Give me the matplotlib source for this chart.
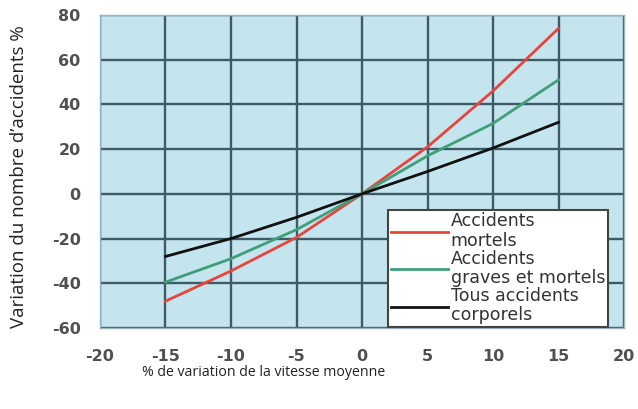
import matplotlib
matplotlib.use("Agg")
import matplotlib.pyplot as plt

plt.rcParams["axes.unicode_minus"] = False

x_vals = [-15, -10, -5, 0, 5, 10, 15]
mortels = [-48, -34.5, -19.5, 0, 21, 46, 74]
graves = [-39.5, -29, -16, 0, 17, 31.5, 51]
tous = [-28, -20, -10.5, 0, 10, 20.5, 32]
labels = ["Accidents\nmortels", "Accidents\ngraves et mortels", "Tous accidents\ncorporels"]
colors = ["#e8443c", "#3f9f7a", "#111111"]
x_ticks = [-20, -15, -10, -5, 0, 5, 10, 15, 20]
y_ticks = [-60, -40, -20, 0, 20, 40, 60, 80]

fig = plt.figure(figsize=(6.38, 4.09), dpi=100)
ax = fig.add_axes([100/638, 1-328/409, 524/638, 313/409])
ax.set_facecolor("#c4e4ee")
ax.set_xlim(-20, 20)
ax.set_ylim(-60, 80)
ax.set_xticks(x_ticks)
ax.set_yticks(y_ticks)
ax.grid(True, color="#3d5a66", linewidth=1.7)
ax.set_axisbelow(True)
for s in ax.spines.values():
    s.set_color("#9ab4bd")
    s.set_linewidth(1)
ax.tick_params(axis="y", length=0, pad=14, labelsize=11.5, labelcolor="#505050")
ax.tick_params(axis="x", length=0, pad=15, labelsize=11.5, labelcolor="#505050")
for lab in ax.get_xticklabels() + ax.get_yticklabels():
    lab.set_fontfamily("DejaVu Sans")
    lab.set_fontweight("bold")

for ys, c, l in zip([mortels, graves, tous], colors, labels):
    ax.plot(x_vals, ys, color=c, linewidth=2, label=l)

leg = ax.legend(loc="lower right", bbox_to_anchor=(0.969, 0.003), frameon=True, fancybox=False,
                edgecolor="#444444", framealpha=1, prop={"family": "DejaVu Sans", "size": 12.5},
                handlelength=3.3, handletextpad=0.15, labelspacing=0.0, borderpad=0.15,
                borderaxespad=0)
leg.get_frame().set_linewidth(1.5)
for t in leg.get_texts():
    t.set_color("#333333")
    t.set_linespacing(1.1)

fig.text(19/638, 1-177/409, "Variation du nombre d\u2019accidents %", rotation=90,
         ha="center", va="center", fontsize=13.5, family="Open Sans", color="#222222")
fig.text(264/638, 1-372/409, "% de variation de la vitesse moyenne",
         ha="center", va="center", fontsize=10.2, family="Open Sans", color="#222222")

fig.savefig("out.png", dpi=100, facecolor="white")
